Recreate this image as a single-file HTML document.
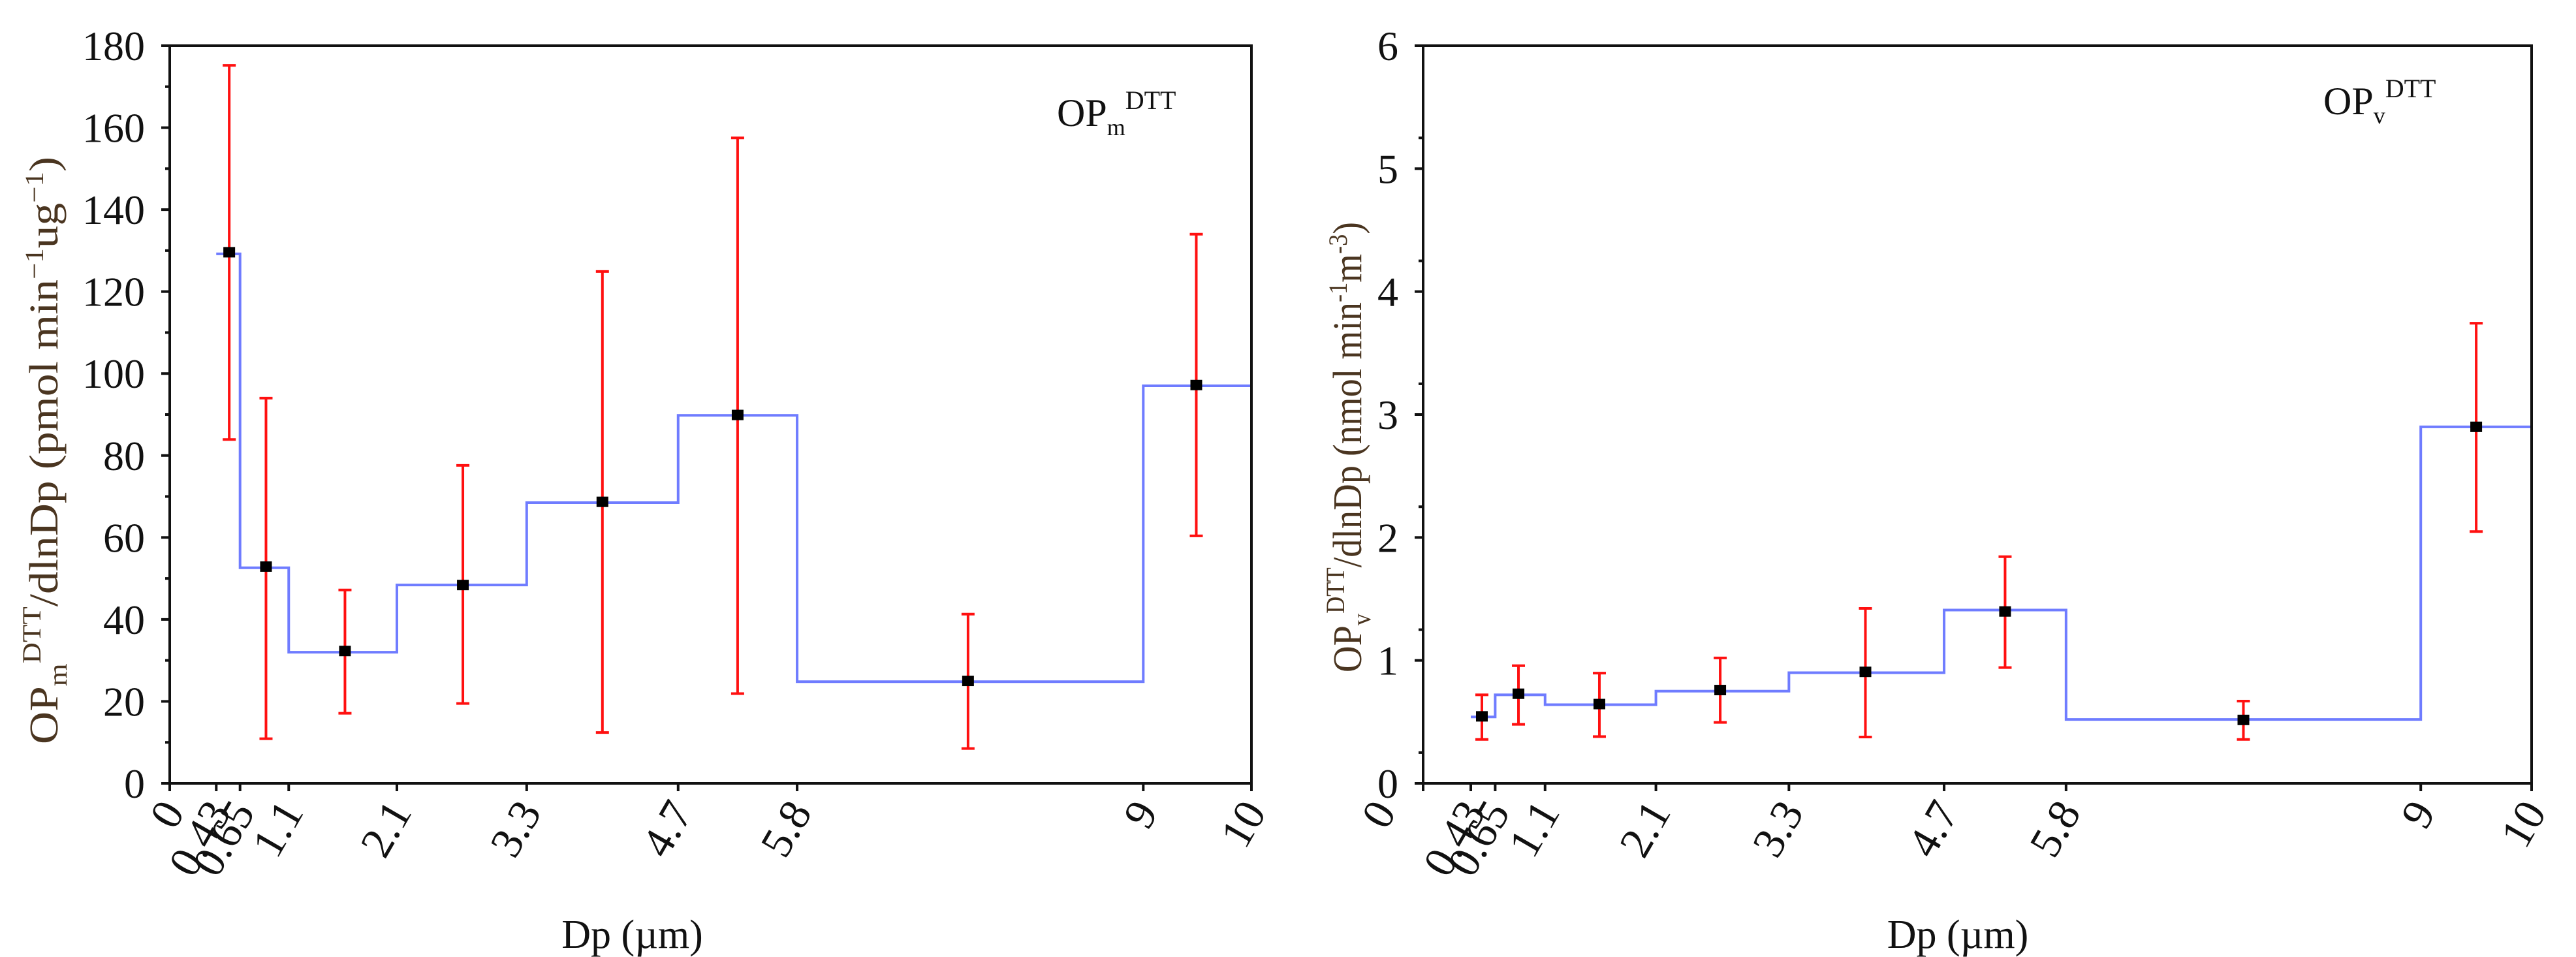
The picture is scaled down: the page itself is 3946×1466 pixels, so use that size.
<!DOCTYPE html>
<html><head><meta charset="utf-8"><style>
html,body{margin:0;padding:0;background:#fff;}
svg{display:block;font-family:"Liberation Serif","DejaVu Serif",serif;}
</style></head><body>
<svg id="chart" width="3946" height="1466" viewBox="0 0 3946 1466" xmlns="http://www.w3.org/2000/svg">
<rect x="0" y="0" width="3946" height="1466" fill="#fff"/>
<g id="left"></g>
<g id="right"></g>
</svg>
<script>
// shared x data
const binEdges = [0.43, 0.65, 1.1, 2.1, 3.3, 4.7, 5.8, 9, 10];
const xTickValues = [0, 0.43, 0.65, 1.1, 2.1, 3.3, 4.7, 5.8, 9, 10];
const xTickLabels = ["0", "0.43", "0.65", "1.1", "2.1", "3.3", "4.7", "5.8", "9", "10"];
// left panel data (OPm)
const mPointX = [0.55, 0.89, 1.62, 2.71, 4.0, 5.25, 7.38, 9.49];
const mPointY = [129.6, 52.9, 32.3, 48.4, 68.7, 89.9, 25.0, 97.2];
const mErrHigh = [175.2, 94.0, 47.2, 77.6, 124.9, 157.5, 41.3, 134.0];
const mErrLow = [83.9, 10.9, 17.1, 19.5, 12.4, 21.9, 8.5, 60.4];
const mStepY = [129.2, 52.6, 32.0, 48.4, 68.5, 89.8, 24.8, 97.0];
const mYTicks = [0, 20, 40, 60, 80, 100, 120, 140, 160, 180];
// right panel data (OPv)
const vPointX = [0.53, 0.86, 1.59, 2.68, 3.99, 5.25, 7.40, 9.50];
const vPointY = [0.545, 0.729, 0.645, 0.759, 0.907, 1.398, 0.516, 2.90];
const vErrHigh = [0.72, 0.957, 0.897, 1.02, 1.423, 1.844, 0.669, 3.743];
const vErrLow = [0.357, 0.48, 0.38, 0.496, 0.377, 0.942, 0.357, 2.048];
const vStepY = [0.54, 0.72, 0.64, 0.75, 0.90, 1.41, 0.52, 2.90];
const vYTicks = [0, 1, 2, 3, 4, 5, 6];

const NS = "http://www.w3.org/2000/svg";
function mk(parent, tag, attrs, text) {
  const e = document.createElementNS(NS, tag);
  for (const k in attrs) e.setAttribute(k, attrs[k]);
  if (text !== undefined) e.textContent = text;
  parent.appendChild(e);
  return e;
}

function panel(g, cfg) {
  const x0 = cfg.x0, x1 = cfg.x1, yTop = 70, yBot = 1200;
  const xs = v => x0 + (v - 0) / 10 * (x1 - x0);
  const ys = v => yBot - (v - 0) / (cfg.yMax) * (yBot - yTop);

  let d = "";
  for (let i = 0; i < cfg.step.length; i++) {
    const xa = xs(binEdges[i]), xb = xs(binEdges[i + 1]), y = ys(cfg.step[i]);
    d += (i === 0 ? "M" : "L") + xa + "," + y + " L" + xb + "," + y + " ";
  }
  const step = mk(g, "path", {d: d, fill: "none", stroke: "#6f7cff", "stroke-width": 4});
  
  

  for (let i = 0; i < cfg.px.length; i++) {
    const x = xs(cfg.px[i]);
    const eg = mk(g, "g", {});
    
    
    mk(eg, "line", {x1: x, x2: x, y1: ys(cfg.hi[i]), y2: ys(cfg.lo[i]), stroke: "#ff1010", "stroke-width": 4});
    mk(eg, "line", {x1: x - 10, x2: x + 10, y1: ys(cfg.hi[i]), y2: ys(cfg.hi[i]), stroke: "#ff1010", "stroke-width": 4});
    mk(eg, "line", {x1: x - 10, x2: x + 10, y1: ys(cfg.lo[i]), y2: ys(cfg.lo[i]), stroke: "#ff1010", "stroke-width": 4});
    const pt = mk(g, "rect", {x: x - 9, y: ys(cfg.py[i]) - 8, width: 18, height: 16, fill: "#000"});
    
    
  }

  const box = mk(g, "rect", {x: x0, y: yTop, width: x1 - x0, height: yBot - yTop, fill: "none", stroke: "#111", "stroke-width": 4});
  
  

  for (let i = 0; i < cfg.yTicks.length; i++) {
    const v = cfg.yTicks[i], y = ys(v);
    mk(g, "line", {x1: x0 - 13, x2: x0, y1: y, y2: y, stroke: "#111", "stroke-width": 4});
    if (i < cfg.yTicks.length - 1) {
      const ym = ys(v + cfg.yStep / 2);
      mk(g, "line", {x1: x0 - 7, x2: x0, y1: ym, y2: ym, stroke: "#111", "stroke-width": 4});
    }
    const t = mk(g, "text", {x: x0 - 38, y: y + 22, "text-anchor": "end", "font-size": 64, fill: "#111"}, String(v));
    
    
  }
  for (let i = 0; i < xTickValues.length; i++) {
    const x = xs(xTickValues[i]);
    mk(g, "line", {x1: x, x2: x, y1: yBot, y2: yBot + 12, stroke: "#111", "stroke-width": 4});
    const lx = (i === 0 && cfg.zeroShift) ? x + cfg.zeroShift : x + 24;
    const t = mk(g, "text", {x: lx, y: 1244, "text-anchor": "end", "font-size": 68, fill: "#111",
      transform: "rotate(-60 " + lx + " 1244)"}, xTickLabels[i]);
    
    
  }
  const xt = mk(g, "text", {x: (x0 + x1) / 2 + cfg.xtOff, y: 1452, "text-anchor": "middle", "font-size": 62, fill: "#111"}, "Dp (\u00b5m)");
  
  

  const yt = mk(g, "text", {x: 0, y: 0, "text-anchor": "middle", "font-size": 62, fill: "#4a3520",
    transform: "translate(" + cfg.ytX + "," + cfg.ytY + ") rotate(-90)", textLength: cfg.ytLen, lengthAdjust: "spacingAndGlyphs"});
  
  
  mk(yt, "tspan", {}, "OP");
  mk(yt, "tspan", {dy: 14, "font-size": 40}, cfg.sub);
  mk(yt, "tspan", {dy: -40, "font-size": 40}, "DTT");
  mk(yt, "tspan", {dy: 26}, cfg.unitsA);
  mk(yt, "tspan", {dy: -22, "font-size": 40}, cfg.sup1);
  mk(yt, "tspan", {dy: 22}, cfg.unitsB);
  mk(yt, "tspan", {dy: -22, "font-size": 40}, cfg.sup2);
  mk(yt, "tspan", {dy: 22}, ")");

  const an = mk(g, "text", {x: cfg.anX, y: cfg.anY, "font-size": 60, fill: "#111"});
  
  
  mk(an, "tspan", {}, "OP");
  mk(an, "tspan", {dy: 14, "font-size": 36}, cfg.sub);
  mk(an, "tspan", {dy: -40, "font-size": 40}, "DTT");
}

panel(document.getElementById("left"), {
  x0: 260, x1: 1917, yMax: 180, yStep: 20, yTicks: mYTicks,
  step: mStepY, px: mPointX, py: mPointY, hi: mErrHigh, lo: mErrLow,
  ytX: 88, ytY: 690, ytLen: 900, sub: "m",
  unitsA: "/dlnDp (pmol min", sup1: "\u22121", unitsB: "ug", sup2: "\u22121",
  anX: 1619, anY: 193, zeroShift: 0, xtOff: -120
});
panel(document.getElementById("right"), {
  x0: 2180, x1: 3878, yMax: 6, yStep: 0.5, yTicks: vYTicks,
  step: vStepY, px: vPointX, py: vPointY, hi: vErrHigh, lo: vErrLow,
  ytX: 2085, ytY: 685, ytLen: 690, sub: "v",
  unitsA: "/dlnDp (nmol min", sup1: "-1", unitsB: "m", sup2: "-3",
  anX: 3559, anY: 175, zeroShift: -40, xtOff: -30
});
</script>
</body></html>
